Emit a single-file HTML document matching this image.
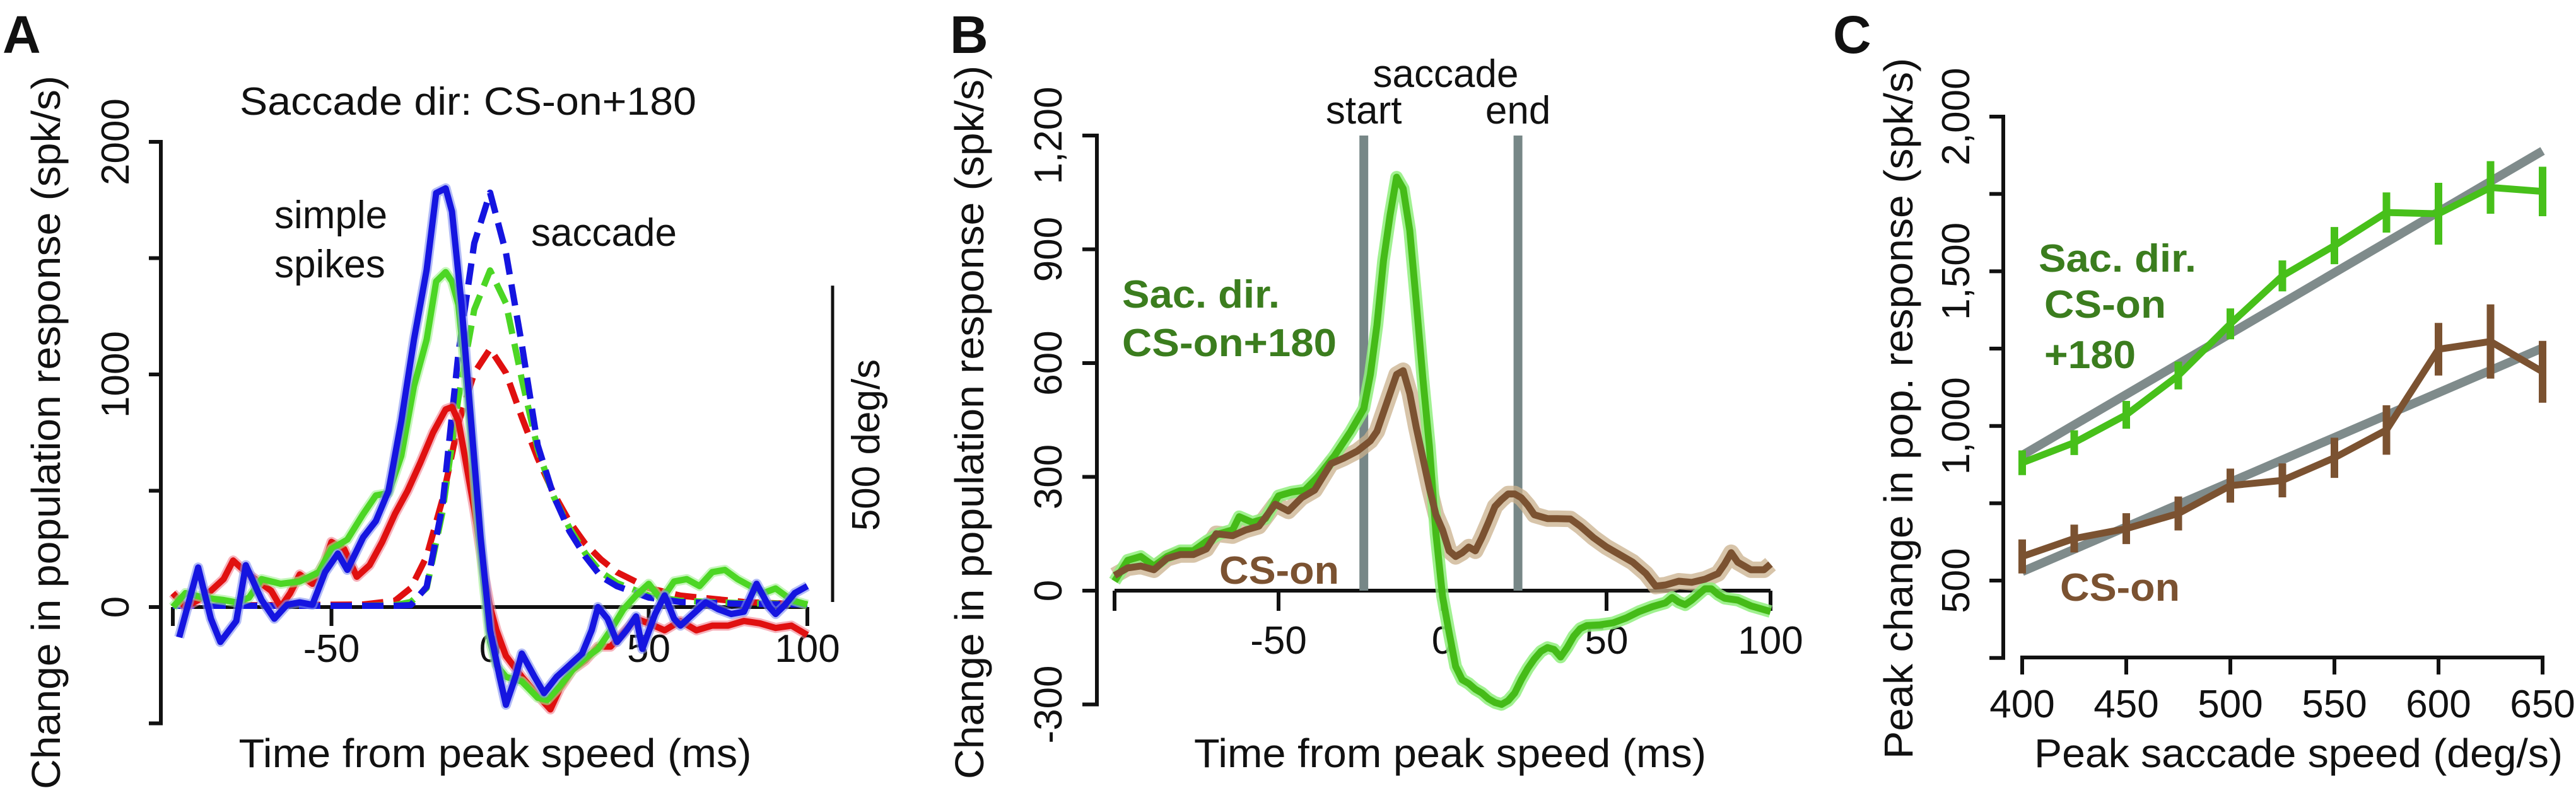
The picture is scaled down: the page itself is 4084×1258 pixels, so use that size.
<!DOCTYPE html>
<html><head><meta charset="utf-8">
<style>
html,body{margin:0;padding:0;background:#fff;}
svg{display:block;font-family:"Liberation Sans",Arial,sans-serif;}
</style></head>
<body>
<svg id="fig" width="4084" height="1258" viewBox="0 0 4084 1258" xmlns="http://www.w3.org/2000/svg">
<g id="pA"></g>
<g id="pB"></g>
<g id="pC"></g>
</svg>
<script>
// ---------- Panel A data ----------
const aBlueT = [-98,-92,-88,-85,-80,-77,-72,-68,-64,-60,-56,-52,-48,-45,-40,-36,-32,-28,-24,-20,-17,-14,-12,-9,-6,-3,0,3,5,8,10,14,17,21,25,29,32,34,37,40,43,46,48,52,55,58,60,64,68,72,76,80,84,88,90,93,96,100];
const aBlueV = [-130,170,-50,-150,-60,180,30,-50,10,20,10,150,230,160,300,370,500,800,1150,1450,1780,1800,1700,1300,800,300,-100,-300,-420,-300,-200,-300,-370,-300,-250,-200,-100,0,-50,-150,-100,-40,-180,-30,50,-50,-80,-30,20,-10,-30,-20,100,0,-30,10,60,90];
const aGreenT = [-100,-96,-90,-84,-80,-76,-72,-66,-60,-54,-50,-45,-40,-36,-32,-28,-24,-20,-17,-14,-12,-10,-7,-4,-2,0,2,5,10,15,18,22,26,30,34,38,42,46,50,54,58,62,66,70,74,78,82,86,90,95,100];
const aGreenV = [0,60,40,30,20,40,120,100,110,150,250,290,400,480,490,650,950,1150,1400,1440,1400,1300,900,400,100,-150,-250,-300,-320,-390,-400,-340,-270,-220,-180,-100,-10,50,100,30,110,120,90,150,160,120,90,60,80,30,10];
const aRedT = [-100,-96,-92,-88,-84,-81,-77,-73,-69,-66,-63,-60,-56,-52,-50,-46,-42,-38,-34,-30,-26,-22,-18,-14,-12,-10,-8,-5,-2,0,2,5,10,15,19,22,26,30,34,38,42,46,50,55,60,65,70,75,80,85,90,95,100];
const aRedV = [60,0,30,70,120,200,150,110,70,0,60,140,100,200,280,250,130,180,280,400,500,620,750,850,860,800,650,420,150,0,-100,-210,-300,-380,-440,-350,-270,-230,-170,-170,-110,-50,-70,-100,-60,-100,-80,-80,-60,-70,-90,-80,-120];
// saccade speed (deg/s)
const sacT = [-100,-40,-30,-25,-20,-15,-10,-5,0,5,10,15,20,25,30,35,40,50,60,80,100];
const sacBlue = [2,2,2,3,32,160,400,575,655,560,415,256,176,120,80,48,33,15,8,5,4];
const sacGreen = [2,2,3,8,30,150,330,470,532,480,360,250,175,125,85,55,38,18,10,6,5];
const sacRed = [2,4,10,30,80,170,290,370,408,370,300,235,180,135,100,75,55,30,18,8,4];
const aYTicks = [2000,1500,1000,500,0,-500];
const aYLabels = ["2000","","1000","","0",""];
const aXTicks = [-100,-50,0,50,100];
const aXLabels = ["","-50","0","50","100"];

// ---------- Panel B data ----------
const bGreenT = [-100,-96,-92,-88,-84,-80,-76,-72,-68,-64,-62,-58,-54,-50,-46,-42,-38,-33,-28,-24,-22,-20,-18,-16,-14,-12,-10,-8,-6,-4,-2,0,2,4,6,8,10,12,14,16,18,20,22,24,26,28,30,32,34,36,38,40,42,44,48,52,56,60,64,68,70,72,74,76,78,80,82,84,86,90,94,100];
const bGreenV = [25,80,90,65,90,105,105,130,150,160,195,180,190,250,260,265,300,355,420,480,570,700,870,990,1090,1060,950,760,560,380,150,-15,-110,-200,-235,-245,-260,-270,-285,-295,-300,-290,-270,-235,-205,-180,-160,-150,-155,-175,-150,-120,-100,-92,-90,-85,-72,-55,-42,-32,-18,-30,-37,-25,-10,5,5,-10,-20,-25,-40,-55];
const bBrownT = [-100,-96,-92,-88,-84,-80,-76,-72,-69,-64,-60,-56,-51,-47,-43,-39,-34,-30,-26,-22,-20,-18,-16,-14,-12,-10,-8,-6,-4,-2,0,2,4,6,8,10,12,14,16,18,20,22,24,26,28,32,35,39,42,46,50,54,58,62,65,68,72,76,80,84,86,88,90,94,98,100];
const bBrownV = [40,60,65,55,85,95,95,110,150,145,160,170,228,210,245,265,335,350,368,395,420,470,520,570,580,520,430,350,270,200,160,105,90,100,115,105,140,180,222,240,255,255,245,225,200,190,190,189,170,140,115,95,75,45,12,15,25,22,30,45,70,100,75,55,55,70];
const bYTicks = [1200,900,600,300,0,-300];
const bYLabels = ["1,200","900","600","300","0","-300"];
const bXTicks = [-100,-50,0,50,100];
const bXLabels = ["","-50","0","50","100"];
const bEvents = [-24,23];
const bEventLabels = ["start","end"];

// ---------- Panel C data ----------
const cSpeeds = [400,425,450,475,500,525,550,575,600,625,650];
const cGreen = [881,946,1036,1163,1330,1485,1583,1690,1686,1771,1758];
const cGreenErr = [40,40,45,45,50,50,60,65,100,85,80];
const cBrown = [578,636,668,717,807,824,897,987,1248,1273,1175];
const cBrownErr = [55,45,50,55,55,55,65,80,85,120,100];
const cFitGreen = [905,1889];
const cFitBrown = [529,1252];
const cFitX = [400,650];
const cYTicks = [2000,1750,1500,1250,1000,750,500,250];
const cYLabels = ["2,000","","1,500","","1,000","","500",""];
const cXTicks = [400,450,500,550,600,650];

// ---------- helpers ----------
const NS = "http://www.w3.org/2000/svg";
function mk(parent, tag, attrs, text){
  const e = document.createElementNS(NS, tag);
  for (const k in attrs) e.setAttribute(k, attrs[k]);
  if (text !== undefined) e.textContent = text;
  parent.appendChild(e);
  return e;
}
function pathD(xs, ys, fx, fy){
  let d = "";
  for (let i=0;i<xs.length;i++){ d += (i?"L":"M") + fx(xs[i]).toFixed(1) + "," + fy(ys[i]).toFixed(1); }
  return d;
}
const BLACK = "#111";

// ================= Panel A =================
const pA = document.getElementById("pA");
const xA = t => 777 + t*5.03;
const yA = v => 963 - v*0.369;
const spkPerDeg = 1360/500;
{
  let t = mk(pA,"text",{x:4,y:84,"font-size":84,"font-weight":"bold",fill:BLACK},"A");
   
  t = mk(pA,"text",{x:742,y:182,"font-size":62,"text-anchor":"middle",textLength:724,lengthAdjust:"spacingAndGlyphs",fill:BLACK},"Saccade dir: CS-on+180");
   
  let l = mk(pA,"line",{x1:255,y1:yA(2000),x2:255,y2:yA(-500),stroke:BLACK,"stroke-width":6});
   
  aYTicks.forEach((v,i)=>{
    const tk = mk(pA,"line",{x1:236,y1:yA(v),x2:258,y2:yA(v),stroke:BLACK,"stroke-width":6});
     
    if (aYLabels[i]){
      const tl = mk(pA,"text",{x:0,y:0,"font-size":62,"text-anchor":"middle",fill:BLACK,transform:`translate(204,${yA(v)}) rotate(-90)`},aYLabels[i]);
       
    }
  });
  t = mk(pA,"text",{x:0,y:0,"font-size":64,"text-anchor":"middle",textLength:1132,lengthAdjust:"spacingAndGlyphs",fill:BLACK,transform:"translate(95,686) rotate(-90)"},"Change in population response (spk/s)");
   
  l = mk(pA,"line",{x1:xA(-100),y1:yA(0),x2:xA(100),y2:yA(0),stroke:BLACK,"stroke-width":6});
   
  aXTicks.forEach((v,i)=>{
    const tk = mk(pA,"line",{x1:xA(v),y1:yA(0),x2:xA(v),y2:yA(0)+30,stroke:BLACK,"stroke-width":6});
     
    if (aXLabels[i]){
      const tl = mk(pA,"text",{x:xA(v),y:1050,"font-size":62,"text-anchor":"middle",fill:BLACK},aXLabels[i]);
       
    }
  });
  t = mk(pA,"text",{x:785,y:1217,"font-size":64,"text-anchor":"middle",textLength:813,lengthAdjust:"spacingAndGlyphs",fill:BLACK},"Time from peak speed (ms)");
   
  l = mk(pA,"line",{x1:1320,y1:yA(0)-8,x2:1320,y2:yA(0)-8-500*spkPerDeg*0.369,stroke:BLACK,"stroke-width":5});
   
  t = mk(pA,"text",{x:0,y:0,"font-size":62,"text-anchor":"middle",fill:BLACK,transform:"translate(1394,706) rotate(-90)"},"500 deg/s");
   
  t = mk(pA,"text",{x:435,y:362,"font-size":62,fill:BLACK},"simple");
   
  t = mk(pA,"text",{x:435,y:440,"font-size":62,fill:BLACK},"spikes");
   
  t = mk(pA,"text",{x:842,y:390,"font-size":62,fill:BLACK},"saccade");
   

  const yS = s => yA(s*spkPerDeg);
  const dashed = [[sacRed,"#e01010","saccade-speed-red"],[sacGreen,"#4cd624","saccade-speed-green"],[sacBlue,"#1515e0","saccade-speed-blue"]];
  dashed.forEach(([arr,col,name])=>{
    const p = mk(pA,"path",{d:pathD(sacT,arr,xA,yS),fill:"none",stroke:col,"stroke-width":10,"stroke-dasharray":"34,16","stroke-linejoin":"round"});
     
  });
  const solids = [[aRedT,aRedV,"#e01010","#f08090","ss-red"],[aGreenT,aGreenV,"#4cd624","#a0f090","ss-green"],[aBlueT,aBlueV,"#1515e0","#8090f0","ss-blue"]];
  solids.forEach(([ts,vs,col,band,name])=>{
    const b = mk(pA,"path",{d:pathD(ts,vs,xA,yA),fill:"none",stroke:band,"stroke-width":16,opacity:0.6,"stroke-linejoin":"round"});
     
    const p = mk(pA,"path",{d:pathD(ts,vs,xA,yA),fill:"none",stroke:col,"stroke-width":10,"stroke-linejoin":"round"});
     
  });
}

// ================= Panel B =================
const pB = document.getElementById("pB");
const xB = t => 2287 + t*5.2;
const yB = v => 937 - v*0.6017;
{
  let t = mk(pB,"text",{x:1506,y:84,"font-size":84,"font-weight":"bold",fill:BLACK},"B");
   
  let l = mk(pB,"line",{x1:1739,y1:yB(1200),x2:1739,y2:yB(-300),stroke:BLACK,"stroke-width":6});
   
  bYTicks.forEach((v,i)=>{
    const tk = mk(pB,"line",{x1:1716,y1:yB(v),x2:1742,y2:yB(v),stroke:BLACK,"stroke-width":6});
     
    const tl = mk(pB,"text",{x:0,y:0,"font-size":62,"text-anchor":"middle",fill:BLACK,transform:`translate(1683,${yB(v)}) rotate(-90)`},bYLabels[i]);
     
  });
  t = mk(pB,"text",{x:0,y:0,"font-size":64,"text-anchor":"middle",textLength:1132,lengthAdjust:"spacingAndGlyphs",fill:BLACK,transform:"translate(1559,670) rotate(-90)"},"Change in population response (spk/s)");
   
  l = mk(pB,"line",{x1:xB(-100),y1:yB(0),x2:xB(100),y2:yB(0),stroke:BLACK,"stroke-width":6});
   
  bXTicks.forEach((v,i)=>{
    const tk = mk(pB,"line",{x1:xB(v),y1:yB(0),x2:xB(v),y2:yB(0)+32,stroke:BLACK,"stroke-width":6});
     
    if (bXLabels[i]){
      const tl = mk(pB,"text",{x:xB(v),y:1037,"font-size":62,"text-anchor":"middle",fill:BLACK},bXLabels[i]);
       
    }
  });
  t = mk(pB,"text",{x:2299,y:1217,"font-size":64,"text-anchor":"middle",textLength:812,lengthAdjust:"spacingAndGlyphs",fill:BLACK},"Time from peak speed (ms)");
   
  bEvents.forEach((e,i)=>{
    const ln = mk(pB,"line",{x1:xB(e),y1:yB(1200),x2:xB(e),y2:yB(0),stroke:"#778787","stroke-width":14});
     
    const tl = mk(pB,"text",{x:xB(e),y:196,"font-size":62,"text-anchor":"middle",fill:BLACK},bEventLabels[i]);
     
  });
  t = mk(pB,"text",{x:2292,y:138,"font-size":62,"text-anchor":"middle",fill:BLACK},"saccade");
   

  let b = mk(pB,"path",{d:pathD(bBrownT,bBrownV,xB,yB),fill:"none",stroke:"#c9b08c","stroke-width":26,opacity:0.75,"stroke-linejoin":"round"});
   
  b = mk(pB,"path",{d:pathD(bGreenT,bGreenV,xB,yB),fill:"none",stroke:"#8fef7c","stroke-width":20,opacity:0.85,"stroke-linejoin":"round"});
   
  let p = mk(pB,"path",{d:pathD(bGreenT,bGreenV,xB,yB),fill:"none",stroke:"#45bb18","stroke-width":11,"stroke-linejoin":"round"});
   
  p = mk(pB,"path",{d:pathD(bBrownT,bBrownV,xB,yB),fill:"none",stroke:"#7b5231","stroke-width":11,"stroke-linejoin":"round"});
   

  t = mk(pB,"text",{x:1779,y:488,"font-size":62,"font-weight":"bold",textLength:250,lengthAdjust:"spacingAndGlyphs",fill:"#3b7d1e"},"Sac. dir.");
   
  t = mk(pB,"text",{x:1779,y:565,"font-size":62,"font-weight":"bold",textLength:340,lengthAdjust:"spacingAndGlyphs",fill:"#3b7d1e"},"CS-on+180");
   
  t = mk(pB,"text",{x:1933,y:926,"font-size":62,"font-weight":"bold",textLength:190,lengthAdjust:"spacingAndGlyphs",fill:"#7b5231"},"CS-on");
   
}

// ================= Panel C =================
const pC = document.getElementById("pC");
const xC = s => 3206 + (s-400)*3.3;
const yC = v => 185 + (2000-v)*0.4907;
{
  let t = mk(pC,"text",{x:2906,y:84,"font-size":84,"font-weight":"bold",fill:BLACK},"C");
   
  let l = mk(pC,"line",{x1:3176,y1:yC(2000),x2:3176,y2:yC(250),stroke:BLACK,"stroke-width":6});
   
  cYTicks.forEach((v,i)=>{
    const tk = mk(pC,"line",{x1:3154,y1:yC(v),x2:3179,y2:yC(v),stroke:BLACK,"stroke-width":6});
     
    if (cYLabels[i]){
      const tl = mk(pC,"text",{x:0,y:0,"font-size":62,"text-anchor":"middle",fill:BLACK,transform:`translate(3122,${yC(v)}) rotate(-90)`},cYLabels[i]);
       
    }
  });
  t = mk(pC,"text",{x:0,y:0,"font-size":64,"text-anchor":"middle",textLength:1112,lengthAdjust:"spacingAndGlyphs",fill:BLACK,transform:"translate(3032,648) rotate(-90)"},"Peak change in pop. response (spk/s)");
   
  l = mk(pC,"line",{x1:xC(400),y1:1043,x2:xC(650),y2:1043,stroke:BLACK,"stroke-width":6});
   
  cXTicks.forEach(v=>{
    const tk = mk(pC,"line",{x1:xC(v),y1:1040,x2:xC(v),y2:1070,stroke:BLACK,"stroke-width":6});
     
    const tl = mk(pC,"text",{x:xC(v),y:1138,"font-size":62,"text-anchor":"middle",fill:BLACK},String(v));
     
  });
  t = mk(pC,"text",{x:3644,y:1217,"font-size":64,"text-anchor":"middle",textLength:838,lengthAdjust:"spacingAndGlyphs",fill:BLACK},"Peak saccade speed (deg/s)");
   

  let f = mk(pC,"line",{x1:xC(cFitX[0]),y1:yC(cFitGreen[0]),x2:xC(cFitX[1]),y2:yC(cFitGreen[1]),stroke:"#7f8b8b","stroke-width":14});
   
  f = mk(pC,"line",{x1:xC(cFitX[0]),y1:yC(cFitBrown[0]),x2:xC(cFitX[1]),y2:yC(cFitBrown[1]),stroke:"#7f8b8b","stroke-width":14});
   

  const series = [[cGreen,cGreenErr,"#47c01a","c-cs-on-180"],[cBrown,cBrownErr,"#7b5231","c-cs-on"]];
  series.forEach(([vals,errs,col,name])=>{
    const p = mk(pC,"path",{d:pathD(cSpeeds,vals,xC,yC),fill:"none",stroke:col,"stroke-width":11,"stroke-linejoin":"round"});
     
    cSpeeds.forEach((s,i)=>{
      const e = mk(pC,"line",{x1:xC(s),y1:yC(vals[i]+errs[i]),x2:xC(s),y2:yC(vals[i]-errs[i]),stroke:col,"stroke-width":12});
       
    });
  });
  t = mk(pC,"text",{x:3232,y:431,"font-size":62,"font-weight":"bold",textLength:250,lengthAdjust:"spacingAndGlyphs",fill:"#3b7d1e"},"Sac. dir.");
   
  t = mk(pC,"text",{x:3241,y:504,"font-size":62,"font-weight":"bold",textLength:193,lengthAdjust:"spacingAndGlyphs",fill:"#3b7d1e"},"CS-on");
   
  t = mk(pC,"text",{x:3241,y:584,"font-size":62,"font-weight":"bold",textLength:145,lengthAdjust:"spacingAndGlyphs",fill:"#3b7d1e"},"+180");
   
  t = mk(pC,"text",{x:3266,y:953,"font-size":62,"font-weight":"bold",textLength:190,lengthAdjust:"spacingAndGlyphs",fill:"#7b5231"},"CS-on");
   
}
</script>
</body></html>
